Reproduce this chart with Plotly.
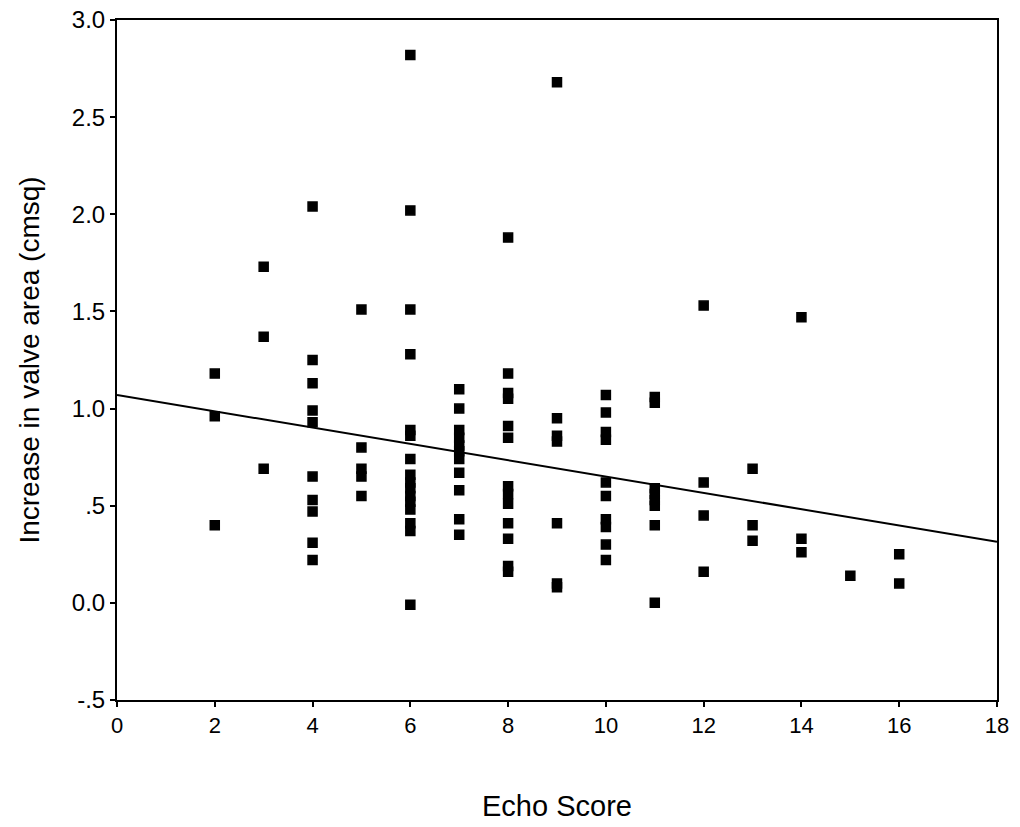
import plotly.graph_objects as go

# Echo score columns and the valve-area increases read at each score
echo_2 = [1.18, 0.96, 0.40]
echo_3 = [1.73, 1.37, 0.69]
echo_4 = [2.04, 1.25, 1.13, 0.99, 0.93, 0.65, 0.53, 0.47, 0.31, 0.22]
echo_5 = [1.51, 0.80, 0.69, 0.65, 0.55]
echo_6 = [2.82, 2.02, 1.51, 1.28, 0.89, 0.86, 0.74, 0.66, 0.62, 0.59, 0.55, 0.52, 0.48, 0.41, 0.37, -0.01]
echo_7 = [1.10, 1.00, 0.89, 0.85, 0.81, 0.78, 0.74, 0.67, 0.58, 0.43, 0.35]
echo_8 = [1.88, 1.18, 1.08, 1.05, 0.91, 0.85, 0.60, 0.56, 0.51, 0.41, 0.33, 0.19, 0.16]
echo_9 = [2.68, 0.95, 0.86, 0.83, 0.41, 0.10, 0.08]
echo_10 = [1.07, 0.98, 0.88, 0.84, 0.62, 0.55, 0.43, 0.39, 0.30, 0.22]
echo_11 = [1.06, 1.03, 0.59, 0.56, 0.53, 0.50, 0.40, 0.00]
echo_12 = [1.53, 0.62, 0.45, 0.16]
echo_13 = [0.69, 0.40, 0.32]
echo_14 = [1.47, 0.33, 0.26]
echo_15 = [0.14]
echo_16 = [0.25, 0.10]

columns = {2: echo_2, 3: echo_3, 4: echo_4, 5: echo_5, 6: echo_6, 7: echo_7,
           8: echo_8, 9: echo_9, 10: echo_10, 11: echo_11, 12: echo_12,
           13: echo_13, 14: echo_14, 15: echo_15, 16: echo_16}

# Fit line
fit_x = [0, 18]
fit_intercept = 1.07
fit_slope = -0.042

x_ticks = [0, 2, 4, 6, 8, 10, 12, 14, 16, 18]
y_tickvals = [-0.5, 0.0, 0.5, 1.0, 1.5, 2.0, 2.5, 3.0]
y_ticktext = ["-.5", "0.0", ".5", "1.0", "1.5", "2.0", "2.5", "3.0"]

xs, ys = [], []
for k, vals in columns.items():
    for v in vals:
        xs.append(k)
        ys.append(v)

fig = go.Figure()
fig.add_trace(go.Scatter(
    x=fit_x, y=[fit_intercept + fit_slope * v for v in fit_x],
    mode="lines", line=dict(color="black", width=2), showlegend=False,
    hoverinfo="skip"))
fig.add_trace(go.Scatter(
    x=xs, y=ys, mode="markers",
    marker=dict(symbol="square", size=9, color="black",
                line=dict(color="black", width=1.5)),
    showlegend=False))

font_family = "Liberation Sans, Arial, sans-serif"
fig.update_layout(
    width=1020, height=827,
    margin=dict(l=117, r=23, t=20, b=127),
    paper_bgcolor="white", plot_bgcolor="white",
    font=dict(family=font_family, color="black", size=20),
    xaxis=dict(range=[0, 18], tickvals=x_ticks, ticks="outside", ticklen=5,
               tickwidth=2, tickcolor="black", showline=True, linecolor="black",
               linewidth=2, mirror=True, showgrid=False, zeroline=False,
               automargin=False, tickfont=dict(size=22),
               title=dict(text="Echo Score", font=dict(size=29), standoff=58)),
    yaxis=dict(range=[-0.5, 3.0], tickvals=y_tickvals, ticktext=y_ticktext,
               ticks="outside", ticklen=5, tickwidth=2, tickcolor="black",
               showline=True, linecolor="black", linewidth=2, mirror=True,
               showgrid=False, zeroline=False, automargin=False,
               tickfont=dict(size=24),
               title=dict(text="Increase in valve area (cmsq)", font=dict(size=28),
                          standoff=24)),
)

fig.write_html("out.html")
